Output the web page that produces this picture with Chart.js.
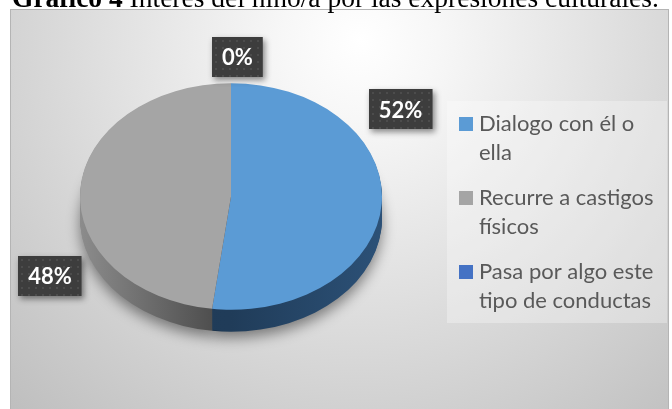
<!DOCTYPE html>
<html>
<head>
<meta charset="utf-8">
<script src="https://cdn.jsdelivr.net/npm/chart.js@4.4.0/dist/chart.umd.min.js"></script>
<style>
  html, body { margin: 0; padding: 0; background: #fff; overflow: hidden; }
  #wrap { position: relative; width: 672px; height: 409px; }
  #title {
    position: absolute; left: 12px; top: -16.5px; z-index: 2;
    font-family: "Liberation Serif", "Times New Roman", serif;
    font-size: 27.5px; line-height: 27.5px; color: #000; white-space: nowrap;
  }
  canvas { position: absolute; left: 0; top: 0; }
</style>
</head>
<body>
<div id="wrap">
  <canvas id="chart" width="672" height="409"></canvas>
  <div id="title"><b>Gráfico 4</b> Interés del niño/a por las expresiones culturales.</div>
</div>
<script>
const categories = ['Dialogo con él o ella', 'Recurre a castigos físicos', 'Pasa por algo este tipo de conductas']
const values = [52, 48, 0]

const colors = ['#5B9BD5', '#A5A5A5', '#4472C4']
// side (depth) colours, left -> centre -> right
const sideColors = [
  ['#1f3a56', '#203c59', '#2c5177'],
  ['#8c8c8c', '#464646', '#464646'],
  ['#2a477a', '#2a477a', '#2a477a']
]

const squash = 0.75
const depth = 22

function squashAround(ctx, x, y, dy) {
  ctx.translate(x, y + dy)
  ctx.scale(1, squash)
  ctx.translate(-x, -y)
}

function wrapText(ctx, text, maxWidth) {
  const words = text.split(' ')
  const lines = []
  let line = ''
  words.forEach(w => {
    const test = line ? line + ' ' + w : w
    if (ctx.measureText(test).width > maxWidth && line) {
      lines.push(line)
      line = w
    } else line = test
  })
  if (line) lines.push(line)
  return lines
}

const pie3d = {
  id: 'pie3d',
  beforeDraw(chart) {
    const ctx = chart.ctx
    ctx.save()
    ctx.fillStyle = '#fff'
    ctx.fillRect(0, 0, chart.width, chart.height)
    const g = ctx.createRadialGradient(360, 40, 0, 360, 40, 520)
    g.addColorStop(0, '#ffffff')
    g.addColorStop(0.15, '#f7f7f7')
    g.addColorStop(1, '#bdbdbd')
    ctx.fillStyle = g
    ctx.fillRect(11, 10, 658, 400)
    ctx.strokeStyle = '#b4b4b4'
    ctx.lineWidth = 1
    ctx.strokeRect(10.5, 9.5, 658, 402)
    ctx.restore()
  },
  beforeDatasetsDraw(chart) {
    const ctx = chart.ctx
    const arcs = chart.getDatasetMeta(0).data
    const { x, y, outerRadius: r } = arcs[0]
    for (let d = depth; d >= 1; d--) {
      ctx.save()
      squashAround(ctx, x, y, d)
      if (d === depth) {
        ctx.shadowColor = 'rgba(0,0,0,0.45)'
        ctx.shadowBlur = 14
        ctx.shadowOffsetY = 6
      }
      arcs.forEach((a, i) => {
        if (a.endAngle - a.startAngle <= 0) return
        const g = ctx.createLinearGradient(x - r, 0, x + r, 0)
        g.addColorStop(0, sideColors[i][0])
        g.addColorStop(0.5, sideColors[i][1])
        g.addColorStop(1, sideColors[i][2])
        ctx.fillStyle = g
        ctx.beginPath()
        ctx.moveTo(x, y)
        ctx.arc(x, y, r, a.startAngle, a.endAngle)
        ctx.closePath()
        ctx.fill()
      })
      ctx.restore()
    }
    ctx.save()
    squashAround(ctx, x, y, 0)
  },
  afterDatasetsDraw(chart, args, opts) {
    const ctx = chart.ctx
    ctx.restore()
    const arcs = chart.getDatasetMeta(0).data
    const { x, y, outerRadius: r } = arcs[0]
    const total = values.reduce((s, v) => s + v, 0)

    // data labels
    ctx.save()
    ctx.font = 'bold 22px Lato'
    ctx.textAlign = 'center'
    ctx.textBaseline = 'middle'
    arcs.forEach((a, i) => {
      const mid = (a.startAngle + a.endAngle) / 2 + Math.PI / 2
      const p = opts.labels[i]
      const ang = mid + p.da * Math.PI / 180
      const cx = x + r * p.f * Math.sin(ang)
      const cy = y - r * squash * p.f * Math.cos(ang)
      const text = Math.round(values[i] / total * 100) + '%'
      const w = ctx.measureText(text).width + 20
      const h = 40
      const bx = Math.round(cx - w / 2), by = Math.round(cy - h / 2)
      ctx.save()
      ctx.shadowColor = 'rgba(0,0,0,0.45)'
      ctx.shadowBlur = 6
      ctx.shadowOffsetX = 2
      ctx.shadowOffsetY = 3
      ctx.fillStyle = '#3d3d3d'
      ctx.fillRect(bx, by, w, h)
      ctx.restore()
      ctx.fillStyle = 'rgba(255,255,255,0.08)'
      for (let yy = by + 3; yy < by + h; yy += 7)
        for (let xx = bx + 3; xx < bx + w; xx += 7) ctx.fillRect(xx, yy, 2, 2)
      ctx.fillStyle = '#fff'
      ctx.fillText(text, cx, cy + 1)
    })
    ctx.restore()

    // legend
    const L = opts.legend
    ctx.save()
    ctx.fillStyle = 'rgba(255,255,255,0.3)'
    ctx.fillRect(L.left, L.top, L.width, L.height)
    ctx.font = '22px Lato'
    ctx.textAlign = 'left'
    ctx.textBaseline = 'alphabetic'
    let base = L.firstBaseline
    categories.forEach((c, i) => {
      const lines = wrapText(ctx, c, L.maxText)
      ctx.fillStyle = colors[i]
      ctx.fillRect(L.boxX, base - 14, 14, 14)
      ctx.fillStyle = '#595959'
      lines.forEach((ln, k) => ctx.fillText(ln, L.textX, base + k * L.lineH))
      base += (lines.length - 1) * L.lineH + L.itemGap
    })
    ctx.restore()
  }
}

new Chart(document.getElementById('chart'), {
  type: 'pie',
  data: {
    labels: categories,
    datasets: [{
      data: values,
      backgroundColor: colors,
      borderWidth: 0,
      clip: false
    }]
  },
  options: {
    responsive: false,
    animation: false,
    events: [],
    layout: { padding: { left: 80, right: 290, top: 45.5, bottom: 61.5 } },
    plugins: {
      legend: { display: false },
      tooltip: { enabled: false },
      pie3d: {
        labels: [{ da: -38, f: 1.36 }, { da: -34, f: 1.39 }, { da: 2, f: 1.23 }],
        legend: {
          left: 447, top: 101, width: 220, height: 222,
          boxX: 459, textX: 479, firstBaseline: 131,
          lineH: 29, itemGap: 45, maxText: 185
        }
      }
    }
  },
  plugins: [pie3d]
})
</script>
</body>
</html>
